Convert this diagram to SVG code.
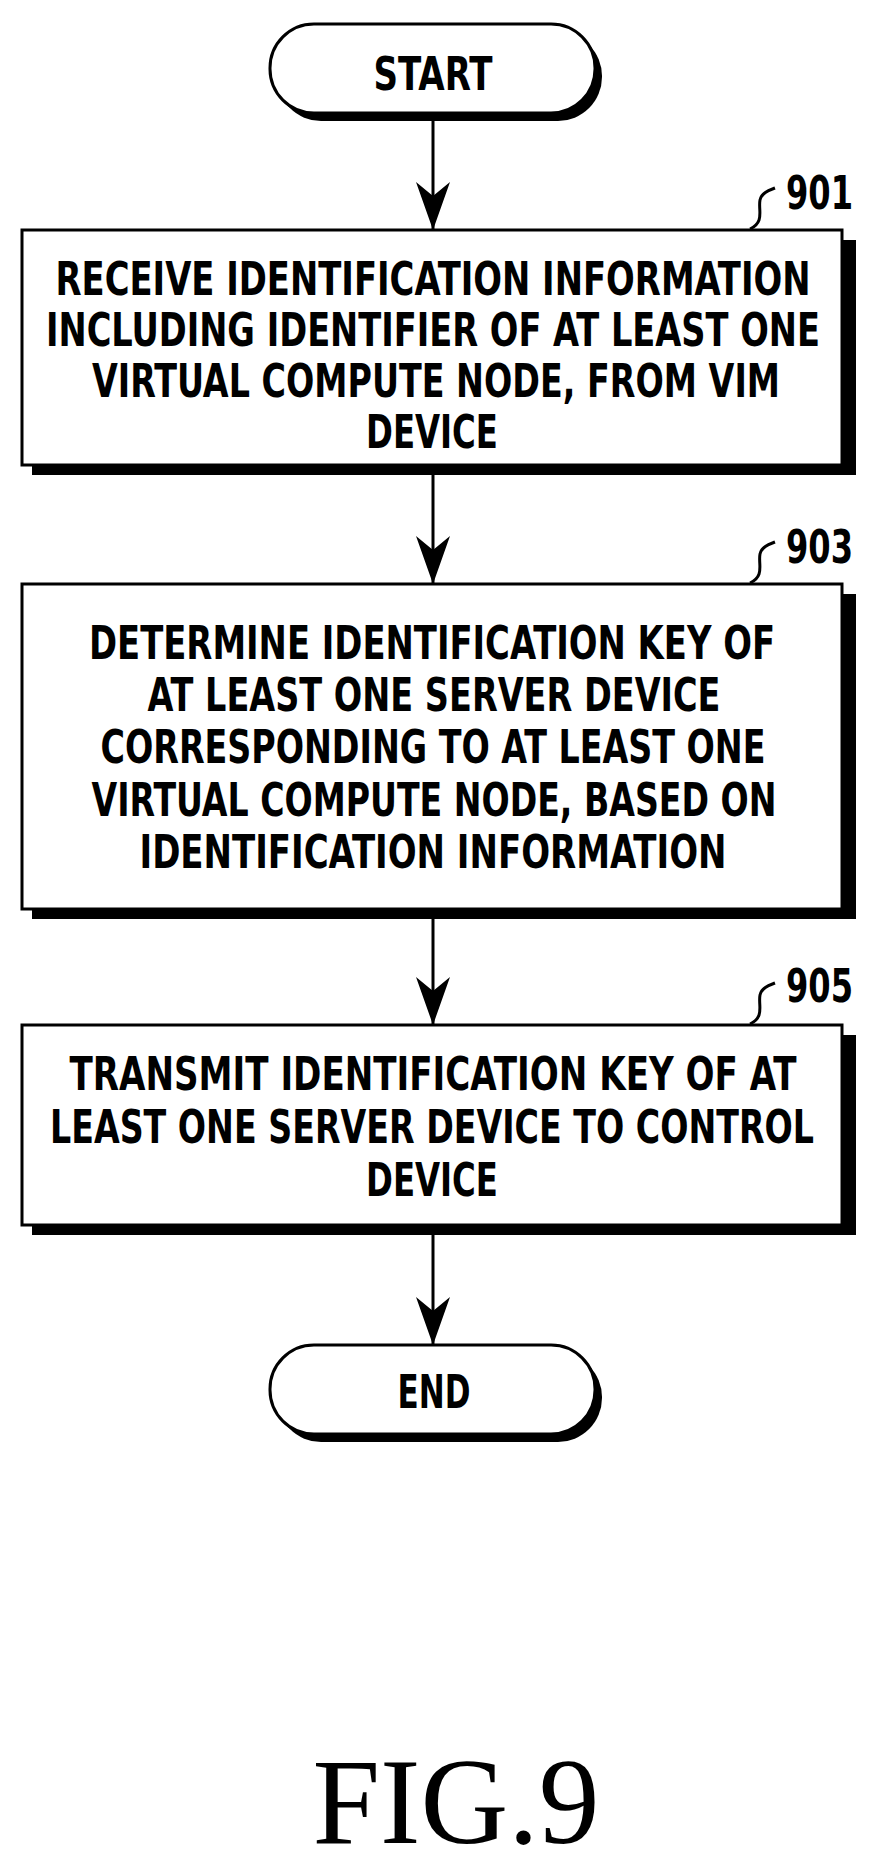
<svg xmlns="http://www.w3.org/2000/svg" width="877" height="1873" viewBox="0 0 877 1873">
<style>
.box{fill:#fff;stroke:#000;stroke-width:3}
.sh{fill:#000}
.t{font-family:"DejaVu Sans Condensed","DejaVu Sans",sans-serif;font-stretch:condensed;font-weight:bold;font-size:47px;text-anchor:middle;fill:#000}
.lbl{font-family:"DejaVu Sans Condensed","DejaVu Sans",sans-serif;font-weight:bold;font-size:46px;fill:#000}
.c{fill:none;stroke:#000;stroke-width:3}
</style>
<defs>
<marker id="ah" markerUnits="userSpaceOnUse" markerWidth="50" markerHeight="36" refX="48" refY="17" orient="auto" viewBox="0 0 50 34">
<path d="M0,0 L14,17 L0,34 L48,17 Z" fill="#000"/>
</marker>
</defs>
<g id="connectors">
<line class="c" x1="433" y1="113" x2="433" y2="230" marker-end="url(#ah)"/>
<line class="c" x1="433" y1="465" x2="433" y2="584" marker-end="url(#ah)"/>
<line class="c" x1="433" y1="909" x2="433" y2="1025" marker-end="url(#ah)"/>
<line class="c" x1="433" y1="1225" x2="433" y2="1345" marker-end="url(#ah)"/>
</g>
<g id="start">
<rect class="sh" x="277" y="32" width="325" height="89" rx="44"/>
<rect class="box" x="270" y="24" width="325" height="89" rx="44"/>
<text class="t" x="433" y="90" textLength="119" lengthAdjust="spacingAndGlyphs">START</text>
</g>
<g id="n901">
<rect class="sh" x="32" y="240" width="824" height="235"/>
<rect class="box" x="22" y="230" width="820" height="235"/>
<text class="t" x="433" y="295" textLength="755" lengthAdjust="spacingAndGlyphs">RECEIVE IDENTIFICATION INFORMATION</text>
<text class="t" x="433" y="346" textLength="774" lengthAdjust="spacingAndGlyphs">INCLUDING IDENTIFIER OF AT LEAST ONE</text>
<text class="t" x="436" y="397" textLength="688" lengthAdjust="spacingAndGlyphs">VIRTUAL COMPUTE NODE, FROM VIM</text>
<text class="t" x="432" y="448" textLength="132" lengthAdjust="spacingAndGlyphs">DEVICE</text>
<path class="c" d="M750,229 C765,222 758,210 760,200 C762,192 770,190 775,188" stroke-width="2"/>
<text class="lbl" x="786" y="209" textLength="67" lengthAdjust="spacingAndGlyphs">901</text>
</g>
<g id="n903">
<rect class="sh" x="32" y="594" width="824" height="325"/>
<rect class="box" x="22" y="584" width="820" height="325"/>
<text class="t" x="432" y="659" textLength="686" lengthAdjust="spacingAndGlyphs">DETERMINE IDENTIFICATION KEY OF</text>
<text class="t" x="434" y="711" textLength="573" lengthAdjust="spacingAndGlyphs">AT LEAST ONE SERVER DEVICE</text>
<text class="t" x="433" y="763" textLength="665" lengthAdjust="spacingAndGlyphs">CORRESPONDING TO AT LEAST ONE</text>
<text class="t" x="434" y="816" textLength="685" lengthAdjust="spacingAndGlyphs">VIRTUAL COMPUTE NODE, BASED ON</text>
<text class="t" x="433" y="868" textLength="587" lengthAdjust="spacingAndGlyphs">IDENTIFICATION INFORMATION</text>
<path class="c" d="M750,583 C765,576 758,564 760,554 C762,546 770,544 775,542" stroke-width="2"/>
<text class="lbl" x="786" y="563" textLength="67" lengthAdjust="spacingAndGlyphs">903</text>
</g>
<g id="n905">
<rect class="sh" x="32" y="1035" width="824" height="200"/>
<rect class="box" x="22" y="1025" width="820" height="200"/>
<text class="t" x="433" y="1090" textLength="727" lengthAdjust="spacingAndGlyphs">TRANSMIT IDENTIFICATION KEY OF AT</text>
<text class="t" x="432" y="1143" textLength="764" lengthAdjust="spacingAndGlyphs">LEAST ONE SERVER DEVICE TO CONTROL</text>
<text class="t" x="432" y="1196" textLength="132" lengthAdjust="spacingAndGlyphs">DEVICE</text>
<path class="c" d="M750,1024 C765,1017 758,1005 760,995 C762,987 770,985 775,983" stroke-width="2"/>
<text class="lbl" x="786" y="1002" textLength="67" lengthAdjust="spacingAndGlyphs">905</text>
</g>
<g id="end">
<rect class="sh" x="277" y="1353" width="325" height="89" rx="44"/>
<rect class="box" x="270" y="1345" width="325" height="89" rx="44"/>
<text class="t" x="434" y="1408" textLength="73" lengthAdjust="spacingAndGlyphs">END</text>
</g>
<text x="456" y="1843" font-family="Liberation Serif,serif" font-size="122" text-anchor="middle" textLength="287" lengthAdjust="spacingAndGlyphs">FIG.9</text>
</svg>
